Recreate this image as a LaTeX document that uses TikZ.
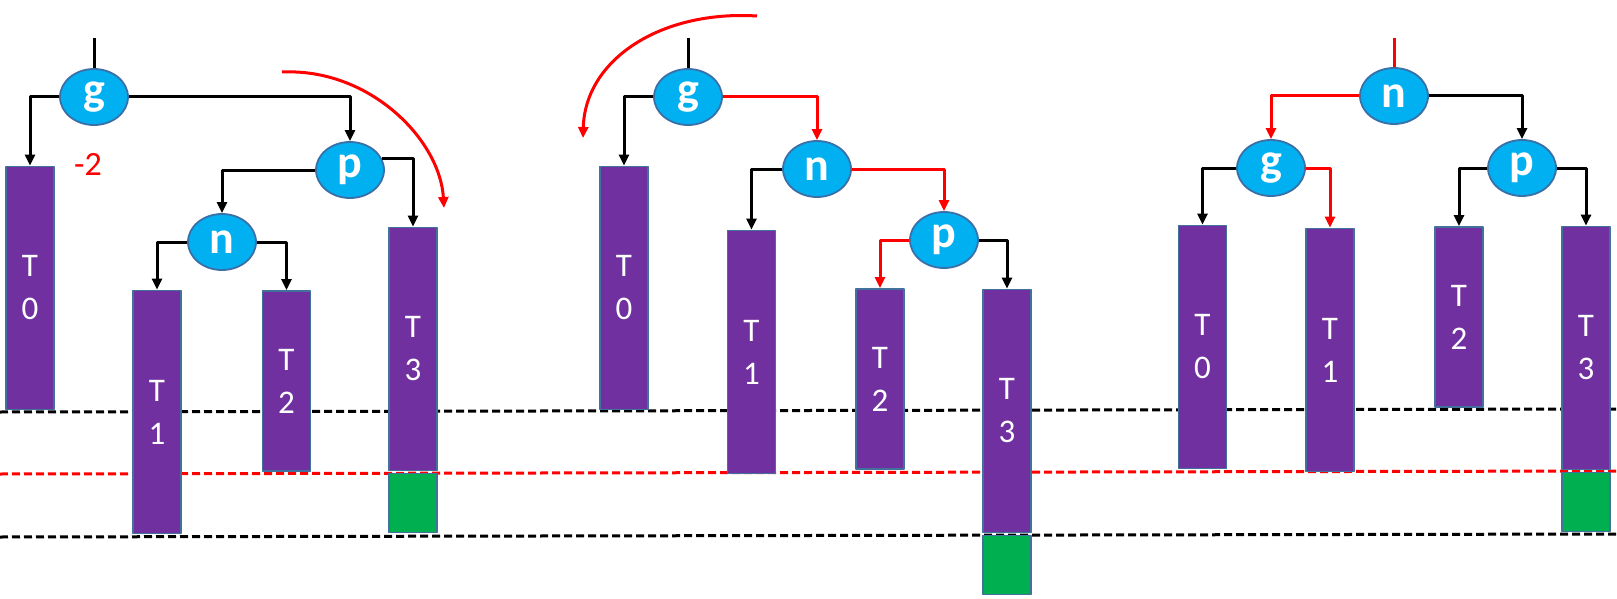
\documentclass[tikz,border=0pt]{standalone}
\usepackage{fontspec}
\setmainfont{Carlito}
\usetikzlibrary{shapes.geometric,arrows.meta}
\definecolor{barpurple}{HTML}{7030A0}
\definecolor{baredge}{HTML}{41719C}
\definecolor{knotblue}{HTML}{00B0F0}
\definecolor{knotedge}{HTML}{3A6FA8}
\definecolor{extragreen}{HTML}{00B050}
\definecolor{hotred}{HTML}{FF0000}
\tikzset{
  knot/.style={ellipse, draw=knotedge, line width=1.8pt, fill=knotblue, minimum width=68pt, minimum height=56pt, inner sep=0pt, text=white, font=\fontsize{46}{46}\selectfont\bfseries},
  bar/.style={rectangle, draw=baredge, line width=1.8pt, fill=barpurple, minimum width=48pt, inner sep=0pt, text=white, align=center, font=\fontsize{33}{43}\selectfont},
  tallbar/.style={bar, minimum height=243pt},
  lowbar/.style={bar, minimum height=180pt},
  extra/.style={rectangle, draw=baredge, line width=1.8pt, fill=extragreen, minimum width=48pt, minimum height=59pt},
  link/.style={->, line width=3pt},
  hot/.style={link, draw=hotred},
  balance/.style={text=hotred, inner sep=0pt, font=\fontsize{34}{34}\selectfont},
}
\begin{document}
\begin{tikzpicture}[x=1pt, y=-1pt, line join=round, >={Triangle[length=11pt,width=10pt]}]
  \useasboundingbox (0,0) rectangle (1617,599);
  % height levels
  \foreach \ya/\yb/\c in {412/409/black,474/471/hotred,537/534/black}
    \draw[\c, line width=3pt, dash pattern=on 8pt off 4pt] (0,\ya)--(1617,\yb);
  % first tree
  \node[knot] (gA) at (94,97) {g};
  \node[knot] (pA) at (350,170) {p};
  \node[knot] (nA) at (222,242) {n};
  \node[tallbar] (tA0) at (30,288) {T\\0};
  \node[tallbar] (tA1) at (157,412) {T\\1};
  \node[lowbar] (tA2) at (286.5,381) {T\\2};
  \node[tallbar] (tA3) at (413,349) {T\\3};
  \node[extra] (xA) at (413,503) {};
  \node[balance] (bal) at (88,164) {-2};
  \coordinate (rA) at (94,38);
  \draw[line width=3pt] (rA) -- (gA.north);
  \draw[link] (gA.west) -| (tA0.north);
  \draw[link] (gA.east) -| (pA.north);
  \draw[link] (pA.west) -| (nA.north);
  \draw[link] (pA.20) -| (tA3.north);
  \draw[link] (nA.west) -| (tA1.north);
  \draw[link] (nA.east) -| (tA2.north);
  \coordinate (sA) at (282,72); \coordinate (eA) at (444,208);
  \draw[hot] (sA) .. controls (370,68) and (440,140) .. (eA);
  % second tree
  \node[knot] (gB) at (688,97) {g};
  \node[knot] (nB) at (817,169) {n};
  \node[knot] (pB) at (944,240) {p};
  \node[tallbar] (tB0) at (624,288) {T\\0};
  \node[tallbar] (tB1) at (751.5,352) {T\\1};
  \node[lowbar] (tB2) at (880,379) {T\\2};
  \node[tallbar] (tB3) at (1007,411) {T\\3};
  \node[extra] (xB) at (1007,565) {};
  \coordinate (rB) at (688,38);
  \draw[line width=3pt] (rB) -- (gB.north);
  \draw[link] (gB.west) -| (tB0.north);
  \draw[hot] (gB.east) -| (nB.north);
  \draw[link] (nB.west) -| (tB1.north);
  \draw[hot] (nB.east) -| (pB.north);
  \draw[hot] (pB.west) -| (tB2.north);
  \draw[link] (pB.east) -| (tB3.north);
  \coordinate (sB) at (757,16); \coordinate (eB) at (583,138);
  \draw[hot] (sB) .. controls (660,10) and (585,60) .. (eB);
  % third tree
  \node[knot] (nC) at (1394,96) {n};
  \node[knot] (gC) at (1271,168) {g};
  \node[knot] (pC) at (1522,168) {p};
  \node[tallbar] (tC0) at (1202.5,347) {T\\0};
  \node[tallbar] (tC1) at (1330,350) {T\\1};
  \node[lowbar] (tC2) at (1459,317) {T\\2};
  \node[tallbar] (tC3) at (1586,348) {T\\3};
  \node[extra] (xC) at (1586,502) {};
  \coordinate (rC) at (1394,38);
  \draw[hotred, line width=3pt] (rC) -- (nC.north);
  \draw[hot] (nC.west) -| (gC.north);
  \draw[link] (nC.east) -| (pC.north);
  \draw[link] (gC.west) -| (tC0.north);
  \draw[hot] (gC.east) -| (tC1.north);
  \draw[link] (pC.west) -| (tC2.north);
  \draw[link] (pC.east) -| (tC3.north);
\end{tikzpicture}
\end{document}
